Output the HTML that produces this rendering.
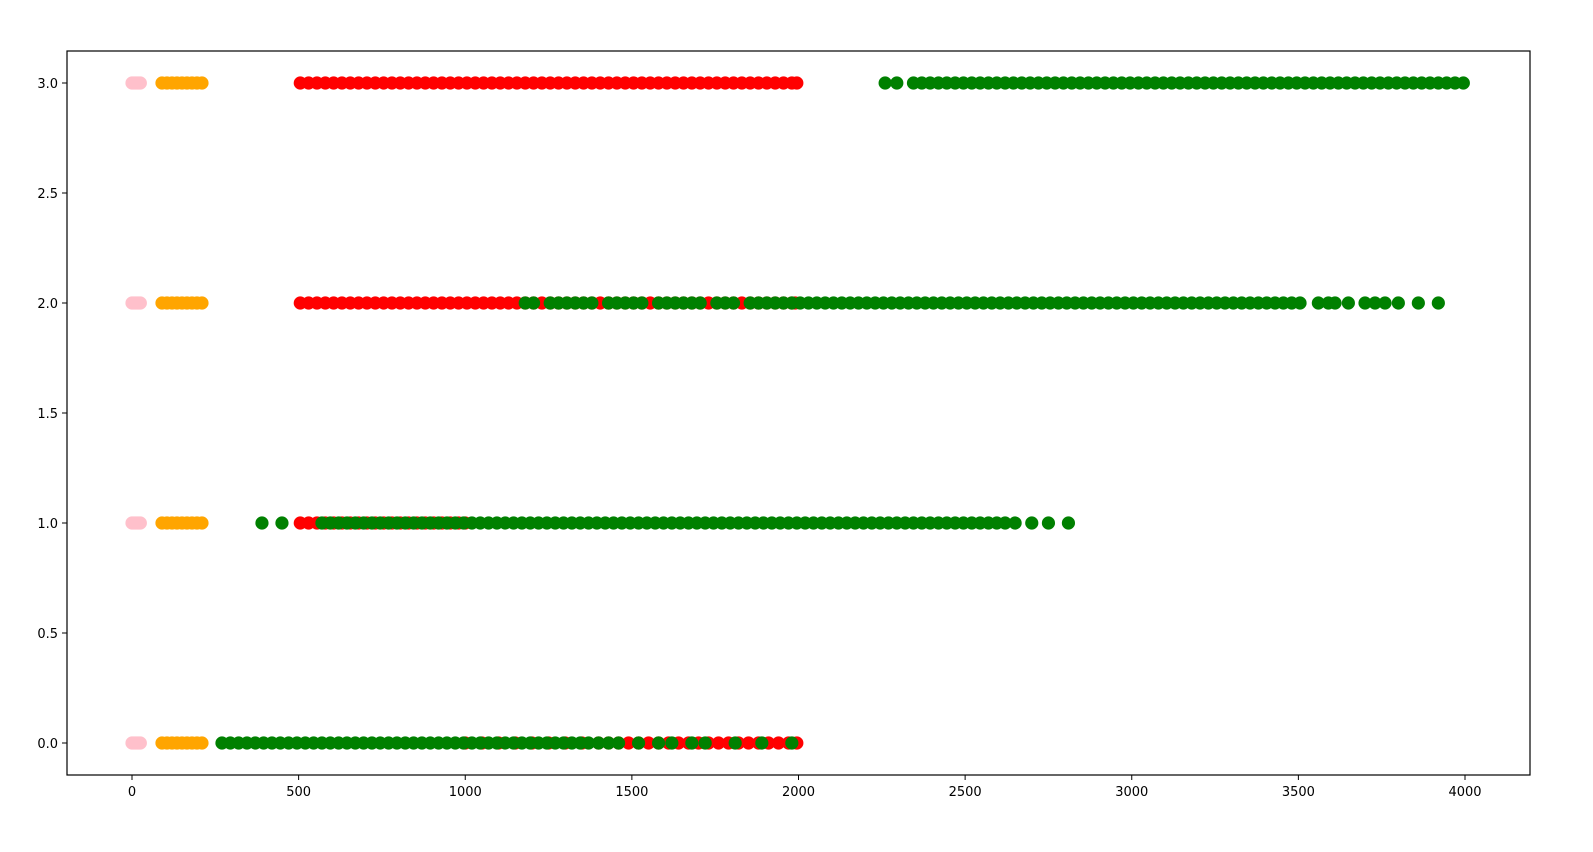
<!DOCTYPE html>
<html><head><meta charset="utf-8"><style>
html,body{margin:0;padding:0;background:#fff;}
svg text{font-family:"DejaVu Sans","Liberation Sans",sans-serif;font-size:13px;fill:#000;}
</style></head><body>
<svg id="chart" width="1593" height="847" xmlns="http://www.w3.org/2000/svg"></svg>
<script>
const xTicks=[0,500,1000,1500,2000,2500,3000,3500,4000];
const yTicks=[0,0.5,1,1.5,2,2.5,3];
const rows=[0,1,2,3];
const pinkX=[0,5,10,15,20,25];
const orangeX=[90,105,120,135,150,165,180,195,210];
const redRow3=[505,530,555,580,605,630,655,680,705,730,755,780,805,830,855,880,905,930,955,980,1005,1030,1055,1080,1105,1130,1155,1180,1205,1230,1255,1280,1305,1330,1355,1380,1405,1430,1455,1480,1505,1530,1555,1580,1605,1630,1655,1680,1705,1730,1755,1780,1805,1830,1855,1880,1905,1930,1955,1980,1995];
const redRow2=[505,530,555,580,605,630,655,680,705,730,755,780,805,830,855,880,905,930,955,980,1005,1030,1055,1080,1105,1130,1155,1180,1205,1230,1255,1280,1305,1330,1355,1380,1405,1430,1455,1480,1505,1530,1555,1580,1605,1630,1655,1680,1705,1730,1755,1780,1805,1830,1855,1880,1905,1930,1955,1980,1990];
const redRow1=[505,530,555,580,605,630,655,680,705,730,755,780,805,830,855,880,905,930,955,980,1000];
const redRow0=[1000,1050,1100,1150,1200,1250,1300,1350,1400,1430,1460,1490,1520,1550,1580,1610,1640,1670,1700,1730,1760,1790,1820,1850,1880,1910,1940,1970,1995];
const greenRow3=[2260,2295,2345,2370,2395,2420,2445,2470,2495,2520,2545,2570,2595,2620,2645,2670,2695,2720,2745,2770,2795,2820,2845,2870,2895,2920,2945,2970,2995,3020,3045,3070,3095,3120,3145,3170,3195,3220,3245,3270,3295,3320,3345,3370,3395,3420,3445,3470,3495,3520,3545,3570,3595,3620,3645,3670,3695,3720,3745,3770,3795,3820,3845,3870,3895,3920,3945,3970,3995];
const greenRow2=[1180,1205,1255,1280,1305,1330,1355,1380,1430,1455,1480,1505,1530,1580,1605,1630,1655,1680,1705,1755,1780,1805,1855,1880,1905,1930,1955,1980,2005,2030,2055,2080,2105,2130,2155,2180,2205,2230,2255,2280,2305,2330,2355,2380,2405,2430,2455,2480,2505,2530,2555,2580,2605,2630,2655,2680,2705,2730,2755,2780,2805,2830,2855,2880,2905,2930,2955,2980,3005,3030,3055,3080,3105,3130,3155,3180,3205,3230,3255,3280,3305,3330,3355,3380,3405,3430,3455,3480,3505,3560,3590,3610,3650,3700,3730,3760,3800,3860,3920];
const greenRow1=[390,450,570,595,620,645,670,695,720,745,770,795,820,845,870,895,920,945,970,995,1020,1045,1070,1095,1120,1145,1170,1195,1220,1245,1270,1295,1320,1345,1370,1395,1420,1445,1470,1495,1520,1545,1570,1595,1620,1645,1670,1695,1720,1745,1770,1795,1820,1845,1870,1895,1920,1945,1970,1995,2020,2045,2070,2095,2120,2145,2170,2195,2220,2245,2270,2295,2320,2345,2370,2395,2420,2445,2470,2495,2520,2545,2570,2595,2620,2650,2700,2750,2810];
const greenRow0=[270,295,320,345,370,395,420,445,470,495,520,545,570,595,620,645,670,695,720,745,770,795,820,845,870,895,920,945,970,995,1020,1045,1070,1095,1120,1145,1170,1195,1220,1245,1270,1295,1320,1345,1370,1400,1430,1460,1520,1580,1620,1680,1720,1810,1890,1980];

const L=67,R=1530,T=51,B=775;
const sx=v=>132+v*(1465-132)/4000;
const sy=v=>743-v*220;
const NS="http://www.w3.org/2000/svg";
const svg=document.getElementById('chart');
function mk(tag,attrs,parent){const e=document.createElementNS(NS,tag);for(const k in attrs)e.setAttribute(k,attrs[k]);(parent||svg).appendChild(e);return e;}

const marks=mk('g',{});


function series(xs,yv,color,name){
  const g=mk('g',{fill:color},marks);
  
  
  xs.forEach(v=>{const c=mk('circle',{cx:sx(v),cy:sy(yv),r:6.6},g);
    
    });
}
rows.forEach(r=>series(pinkX,r,'#ffc0cb','pink-series-row-'+r));
rows.forEach(r=>series(orangeX,r,'#ffa500','orange-series-row-'+r));
series(redRow0,0,'#ff0000','red-series-row-0');
series(redRow1,1,'#ff0000','red-series-row-1');
series(redRow2,2,'#ff0000','red-series-row-2');
series(redRow3,3,'#ff0000','red-series-row-3');
series(greenRow0,0,'#008000','green-series-row-0');
series(greenRow1,1,'#008000','green-series-row-1');
series(greenRow2,2,'#008000','green-series-row-2');
series(greenRow3,3,'#008000','green-series-row-3');

const frame=mk('rect',{x:L,y:T,width:R-L,height:B-T,fill:'none',stroke:'#000','stroke-width':1.2});



const xg=mk('g',{});


xTicks.forEach(v=>{
  mk('line',{x1:sx(v),x2:sx(v),y1:B,y2:B+5,stroke:'#000','stroke-width':1},xg);
  const t=mk('text',{x:sx(v),y:B+21,'text-anchor':'middle'},xg);
  
  
  t.textContent=v;
});
const yg=mk('g',{});


yTicks.forEach(v=>{
  mk('line',{x1:L-5,x2:L,y1:sy(v),y2:sy(v),stroke:'#000','stroke-width':1},yg);
  const t=mk('text',{x:L-9,y:sy(v)+5,'text-anchor':'end'},yg);
  
  
  t.textContent=v.toFixed(1);
});
</script>
</body></html>
